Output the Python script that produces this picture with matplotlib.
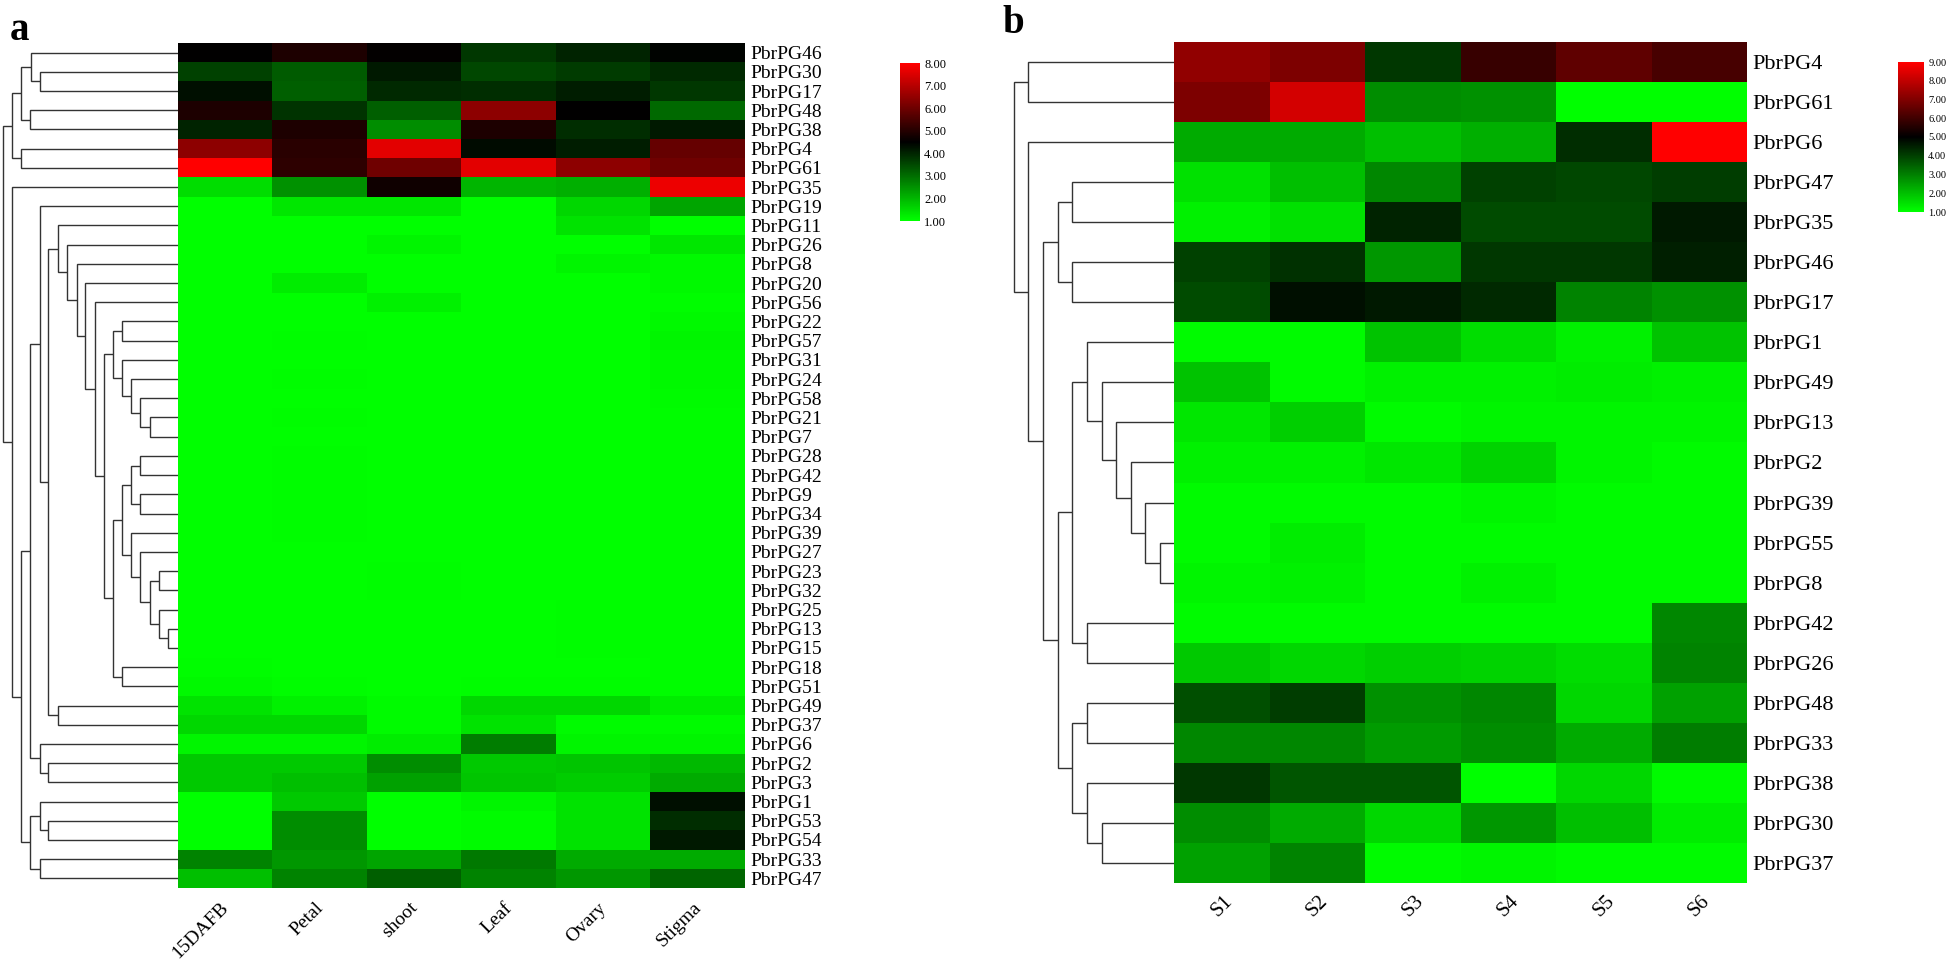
import numpy as np
import matplotlib
matplotlib.use("Agg")
import matplotlib.pyplot as plt
from matplotlib.colors import LinearSegmentedColormap
from matplotlib.transforms import ScaledTranslation

plt.rcParams['font.family'] = ['Liberation Serif', 'DejaVu Serif']

# ---------------- panel a data ----------------
genes_a = ["PbrPG46", "PbrPG30", "PbrPG17", "PbrPG48", "PbrPG38", "PbrPG4", "PbrPG61",
           "PbrPG35", "PbrPG19", "PbrPG11", "PbrPG26", "PbrPG8", "PbrPG20", "PbrPG56",
           "PbrPG22", "PbrPG57", "PbrPG31", "PbrPG24", "PbrPG58", "PbrPG21", "PbrPG7",
           "PbrPG28", "PbrPG42", "PbrPG9", "PbrPG34", "PbrPG39", "PbrPG27", "PbrPG23",
           "PbrPG32", "PbrPG25", "PbrPG13", "PbrPG15", "PbrPG18", "PbrPG51", "PbrPG49",
           "PbrPG37", "PbrPG6", "PbrPG2", "PbrPG3", "PbrPG1", "PbrPG53", "PbrPG54",
           "PbrPG33", "PbrPG47"]
tissues_a = ["15DAFB", "Petal", "shoot", "Leaf", "Ovary", "Stigma"]
expr_a = np.array([
    [4.50, 4.90, 4.55, 3.74, 4.02, 4.45],
    [3.61, 3.26, 4.16, 3.54, 3.68, 3.95],
    [4.29, 3.20, 3.95, 3.88, 4.09, 3.74],
    [4.90, 3.81, 3.20, 6.42, 4.50, 3.06],
    [4.02, 4.90, 2.58, 4.90, 3.88, 4.16],
    [6.42, 5.05, 7.59, 4.36, 4.09, 5.87],
    [8.00, 5.12, 6.01, 7.59, 6.42, 6.01],
    [1.48, 2.51, 4.70, 2.03, 2.10, 7.73],
    [1.00, 1.34, 1.34, 1.00, 1.55, 2.24],
    [1.00, 1.00, 1.00, 1.00, 1.41, 1.00],
    [1.00, 1.00, 1.14, 1.00, 1.00, 1.34],
    [1.00, 1.00, 1.00, 1.00, 1.14, 1.10],
    [1.00, 1.27, 1.00, 1.00, 1.00, 1.10],
    [1.00, 1.00, 1.20, 1.00, 1.00, 1.05],
    [1.00, 1.00, 1.00, 1.00, 1.00, 1.10],
    [1.00, 1.05, 1.00, 1.00, 1.00, 1.14],
    [1.00, 1.00, 1.00, 1.00, 1.00, 1.10],
    [1.00, 1.05, 1.00, 1.00, 1.00, 1.10],
    [1.00, 1.00, 1.00, 1.00, 1.00, 1.08],
    [1.00, 1.05, 1.00, 1.00, 1.00, 1.05],
    [1.00, 1.00, 1.00, 1.00, 1.00, 1.05],
    [1.00, 1.05, 1.00, 1.00, 1.00, 1.05],
    [1.00, 1.05, 1.00, 1.00, 1.00, 1.05],
    [1.00, 1.05, 1.00, 1.00, 1.00, 1.05],
    [1.00, 1.05, 1.00, 1.00, 1.00, 1.05],
    [1.00, 1.05, 1.00, 1.00, 1.00, 1.05],
    [1.00, 1.00, 1.00, 1.00, 1.00, 1.05],
    [1.00, 1.00, 1.05, 1.00, 1.00, 1.05],
    [1.00, 1.00, 1.05, 1.00, 1.00, 1.05],
    [1.00, 1.00, 1.00, 1.00, 1.05, 1.05],
    [1.00, 1.00, 1.00, 1.00, 1.05, 1.05],
    [1.00, 1.00, 1.00, 1.00, 1.05, 1.05],
    [1.05, 1.00, 1.00, 1.00, 1.00, 1.05],
    [1.10, 1.05, 1.00, 1.05, 1.05, 1.05],
    [1.41, 1.20, 1.07, 1.55, 1.55, 1.27],
    [1.55, 1.55, 1.07, 1.41, 1.07, 1.07],
    [1.14, 1.14, 1.27, 2.78, 1.14, 1.14],
    [1.75, 1.75, 2.58, 1.75, 1.82, 1.96],
    [1.75, 1.89, 2.30, 1.82, 1.69, 2.17],
    [1.00, 1.75, 1.00, 1.14, 1.41, 4.29],
    [1.00, 2.58, 1.00, 1.07, 1.41, 3.88],
    [1.00, 2.58, 1.00, 1.07, 1.41, 4.16],
    [2.72, 2.44, 2.24, 2.85, 2.17, 2.17],
    [1.89, 2.72, 3.20, 2.72, 2.44, 3.13],
])
# dendrogram: (merge height, left, right), ints are row indices
tree_a = (174.7,
          (165.3,
           (156.3,
            (147.0, 0, (138.0, 1, 2)),
            (147.3, 3, 4)),
           (156.3, 5, 6)),
          (165.3, 7,
           (157.0,
            (147.3,
             (138.0, 8,
              (129.3,
               (120.0, 9,
                (110.3, 10,
                 (101.0, 11,
                  (92.3, 12,
                   (83.0, 13,
                    (74.0,
                     (64.7, (55.3, 14, 15),
                      (55.3, 16, (46.3, 17, (37.3, 18, (28.0, 19, 20))))),
                     (64.7,
                      (55.3,
                       (46.3, (37.3, 21, 22), (37.3, 23, 24)),
                       (46.3, 25, (37.3, 26, (28.0, (18.7, 27, 28),
                                               (18.7, 29, (9.7, 30, 31)))))),
                      (55.3, 32, 33)))))))),
               (120.0, 34, 35))),
             (138.0, 36, (129.3, 37, 38))),
            (147.3,
             (138.0, 39, (129.3, 40, 41)),
             (138.0, 42, 43)))))

# ---------------- panel b data ----------------
genes_b = ["PbrPG4", "PbrPG61", "PbrPG6", "PbrPG47", "PbrPG35", "PbrPG46", "PbrPG17",
           "PbrPG1", "PbrPG49", "PbrPG13", "PbrPG2", "PbrPG39", "PbrPG55", "PbrPG8",
           "PbrPG42", "PbrPG26", "PbrPG48", "PbrPG33", "PbrPG38", "PbrPG30", "PbrPG37"]
stages_b = ["S1", "S2", "S3", "S4", "S5", "S6"]
expr_b = np.array([
    [7.27, 6.96, 4.14, 5.86, 6.49, 6.10],
    [6.96, 8.29, 2.80, 2.73, 1.00, 1.00],
    [2.33, 2.33, 2.02, 2.25, 4.29, 9.00],
    [1.47, 2.02, 2.88, 3.98, 3.90, 4.06],
    [1.24, 1.47, 4.45, 3.82, 3.82, 4.61],
    [3.98, 4.22, 2.65, 4.14, 4.14, 4.53],
    [3.82, 4.76, 4.61, 4.37, 2.96, 2.73],
    [1.08, 1.08, 1.94, 1.55, 1.24, 1.94],
    [1.94, 1.08, 1.24, 1.24, 1.31, 1.24],
    [1.39, 1.78, 1.08, 1.16, 1.16, 1.16],
    [1.24, 1.24, 1.39, 1.71, 1.16, 1.08],
    [1.08, 1.08, 1.08, 1.16, 1.08, 1.08],
    [1.08, 1.31, 1.08, 1.08, 1.08, 1.08],
    [1.16, 1.24, 1.08, 1.24, 1.08, 1.08],
    [1.08, 1.08, 1.08, 1.08, 1.08, 2.88],
    [1.86, 1.63, 1.78, 1.71, 1.55, 2.96],
    [3.75, 4.06, 2.73, 2.88, 1.63, 2.49],
    [2.88, 2.88, 2.57, 2.80, 2.33, 3.04],
    [4.14, 3.67, 3.67, 1.00, 1.63, 1.08],
    [2.80, 2.33, 1.63, 2.65, 2.02, 1.31],
    [2.49, 2.96, 1.08, 1.16, 1.08, 1.08],
])
tree_b = (160.3,
          (145.7, 0, 1),
          (145.7, 2,
           (131.0,
            (116.3, (101.7, 3, 4), (101.7, 5, 6)),
            (116.3,
             (101.7,
              (87.0, 7, (72.3, 8, (57.7, 9, (43.3, 10, (28.7, 11, (14.0, 12, 13)))))),
              (87.0, 14, 15)),
             (101.7, (87.0, 16, 17), (87.0, 18, (72.3, 19, 20)))))))

cmap = LinearSegmentedColormap.from_list("gbr", ["#00ff00", "#000000", "#ff0000"])
LINE = "#333333"

W, H = 1946, 961
fig = plt.figure(figsize=(W / 100, H / 100), dpi=100)


def px_axes(x0, y0, x1, y1):
    return fig.add_axes([x0 / W, 1 - y1 / H, (x1 - x0) / W, (y1 - y0) / H])


def draw_tree(ax, node):
    if isinstance(node, int):
        return node + 0.5, 0.0
    h, left, right = node
    y1, h1 = draw_tree(ax, left)
    y2, h2 = draw_tree(ax, right)
    ax.plot([h1, h, h, h2], [y1, y1, y2, y2], color=LINE, lw=1.0,
            solid_joinstyle='miter', solid_capstyle='butt')
    return (y1 + y2) / 2, h


def panel(box, dbox, cbox, data, rows, cols, tree, vmax, ylab_size, xlab_size,
          xrot_ha, cb_size, xoff, xpad):
    ax = px_axes(*box)
    mesh = ax.pcolormesh(data, cmap=cmap, vmin=1, vmax=vmax, edgecolors='none')
    ax.set_xlim(0, data.shape[1])
    ax.set_ylim(data.shape[0], 0)
    ax.yaxis.tick_right()
    ax.set_yticks(np.arange(len(rows)) + 0.5)
    ax.set_yticklabels(rows, fontsize=ylab_size)
    ax.set_xticks(np.arange(len(cols)) + 0.5)
    ax.set_xticklabels(cols, fontsize=xlab_size, rotation=45, ha=xrot_ha, va='top')
    ax.tick_params(length=0, pad=4)
    ax.tick_params(axis='x', pad=xpad)
    for lab in ax.get_xticklabels():
        lab.set_transform(lab.get_transform() + ScaledTranslation(xoff / 100, 0, fig.dpi_scale_trans))
    for s in ax.spines.values():
        s.set_visible(False)

    dax = px_axes(*dbox)
    draw_tree(dax, tree)
    dax.set_xlim(dbox[2] - dbox[0], 0)
    dax.set_ylim(data.shape[0], 0)
    dax.axis('off')

    cax = px_axes(*cbox)
    cb = fig.colorbar(mesh, cax=cax, ticks=np.arange(1, vmax + 1))
    cb.outline.set_visible(False)
    cb.ax.set_yticklabels([f"{t:.2f}" for t in np.arange(1, vmax + 1)], fontsize=cb_size)
    cb.ax.tick_params(length=0, pad=3)


panel((177.5, 43, 745, 888), (0, 43, 177.5, 888), (900, 63, 920, 221),
      expr_a, genes_a, tissues_a, tree_a, 8, 14, 14, 'right', 9, 7, 8)
panel((1174, 42, 1747, 883), (1000, 42, 1174, 883), (1898, 62, 1924, 212),
      expr_b, genes_b, stages_b, tree_b, 9, 16, 15, 'center', 7.5, 0, 6)

fig.text(10 / W, 1 - 40 / H, "a", fontsize=28, fontweight='bold', va='baseline')
fig.text(1002 / W, 1 - 33 / H, "b", fontsize=28, fontweight='bold', va='baseline')

fig.savefig("out.png", dpi=100, facecolor='white')
